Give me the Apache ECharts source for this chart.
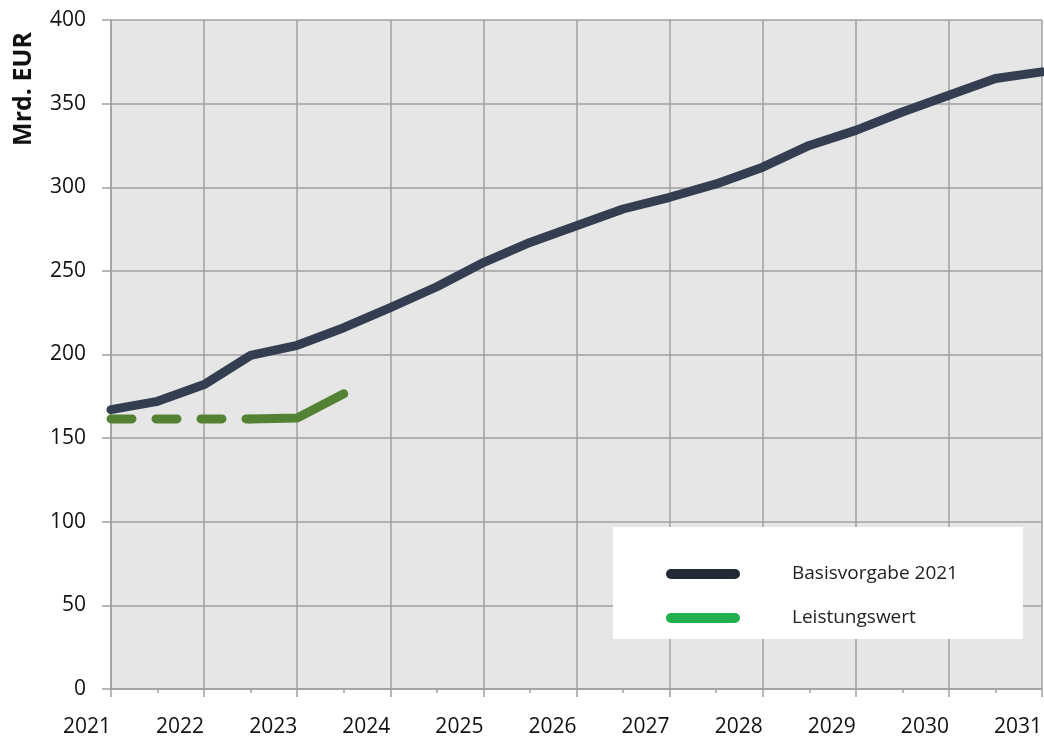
<!DOCTYPE html>
<html>
<head>
<meta charset="utf-8">
<script src="https://cdn.jsdelivr.net/npm/echarts@6/dist/echarts.min.js"></script>
<style>
html,body{margin:0;padding:0;background:#fff;}
#c{width:1044px;height:736px;}
</style>
</head>
<body>
<div id="c"></div>
<script>
// ---- data ----
var periods = [2021, 2021.5, 2022, 2022.5, 2023, 2023.5, 2024, 2024.5, 2025, 2025.5, 2026,
               2026.5, 2027, 2027.5, 2028, 2028.5, 2029, 2029.5, 2030, 2030.5, 2031];
var basisvorgabe = [167, 172, 182, 199.5, 205.5, 216, 228, 240.5, 255, 267, 277,
                    287, 294, 302, 312, 325, 334, 345, 355, 365, 369];
var leistungswert = [161.5, 161.5, 161.5, 161.5, 162, 176.5];
var dashedUntil = 3; // index where the dashed part ends and the solid part starts
var yearTicks = ['2021','2022','2023','2024','2025','2026','2027','2028','2029','2030','2031'];
var seriesNames = ['Basisvorgabe 2021', 'Leistungswert'];

function pairs(xs, ys, from, to) {
  var out = [];
  for (var i = from; i <= to; i++) out.push([xs[i], ys[i]]);
  return out;
}

var chart = echarts.init(document.getElementById('c'), null, {renderer: 'canvas'});
var font = '"Open Sans", "DejaVu Sans", sans-serif';
var gridColor = '#A0A0A0';

chart.setOption({
  animation: false,
  backgroundColor: '#fff',
  grid: {left: 111, right: 2, top: 20, bottom: 47, show: true, backgroundColor: '#E7E6E6', borderWidth: 0,
         containLabel: false, outerBoundsMode: 'none'},
  xAxis: {
    type: 'value', min: 2021, max: 2031, interval: 1,
    axisLine: {show: true, lineStyle: {color: gridColor, width: 1.5}},
    axisTick: {show: true, length: 8, lineStyle: {color: gridColor, width: 1.5}},
    minorTick: {show: true, splitNumber: 2, length: 4, lineStyle: {color: gridColor, width: 1.5}},
    splitLine: {show: true, lineStyle: {color: gridColor, width: 1.5}},
    axisLabel: {
      fontFamily: font, fontSize: 21, color: '#111', align: 'right', margin: 28,
      formatter: function (v) { return yearTicks[Math.round(v - 2021)]; }
    }
  },
  yAxis: {
    type: 'value', min: 0, max: 400, interval: 50,
    axisLine: {show: true, lineStyle: {color: gridColor, width: 1.5}},
    axisTick: {show: true, length: 9, lineStyle: {color: gridColor, width: 1.5}},
    splitLine: {show: true, lineStyle: {color: gridColor, width: 1.5}},
    axisLabel: {fontFamily: font, fontSize: 21, color: '#111', margin: 25}
  },
  graphic: [
    {type: 'rect', z: 3, shape: {x: 613, y: 527, width: 410, height: 112}, style: {fill: '#ffffff'}},
    {type: 'text', z: 5, x: 24, y: 89, rotation: Math.PI / 2,
     style: {text: 'Mrd. EUR', font: 'bold 25px ' + font, fill: '#111', align: 'center', verticalAlign: 'middle'}}
  ],
  legend: {
    z: 10,
    orient: 'vertical', left: 666, top: 564, padding: 0,
    itemWidth: 74, itemHeight: 10, itemGap: 24,
    icon: 'path://M5,0 L69,0 A5,5 0 0 1 69,10 L5,10 A5,5 0 0 1 5,0 Z',
    textStyle: {fontFamily: font, fontSize: 19, color: '#222', lineHeight: 20, padding: [0, 0, 0, 47]},
    data: [
      {name: seriesNames[0], itemStyle: {color: '#222A35'}},
      {name: seriesNames[1], itemStyle: {color: '#22B04F'}}
    ]
  },
  series: [
    {
      name: seriesNames[0], type: 'line', showSymbol: false, symbol: 'none', z: 4,
      data: pairs(periods, basisvorgabe, 0, periods.length - 1),
      lineStyle: {color: '#333F50', width: 9, cap: 'round', join: 'round'},
      itemStyle: {color: '#333F50'}
    },
    {
      name: seriesNames[1], type: 'line', showSymbol: false, symbol: 'none', z: 3,
      data: pairs(periods, leistungswert, 0, dashedUntil),
      lineStyle: {color: '#548235', width: 9, type: [21, 24], cap: 'round', join: 'round'},
      itemStyle: {color: '#548235'}
    },
    {
      name: seriesNames[1], type: 'line', showSymbol: false, symbol: 'none', z: 3,
      data: pairs(periods, leistungswert, dashedUntil, leistungswert.length - 1),
      lineStyle: {color: '#548235', width: 9, cap: 'round', join: 'round'},
      itemStyle: {color: '#548235'}
    }
  ]
});
</script>
</body>
</html>
